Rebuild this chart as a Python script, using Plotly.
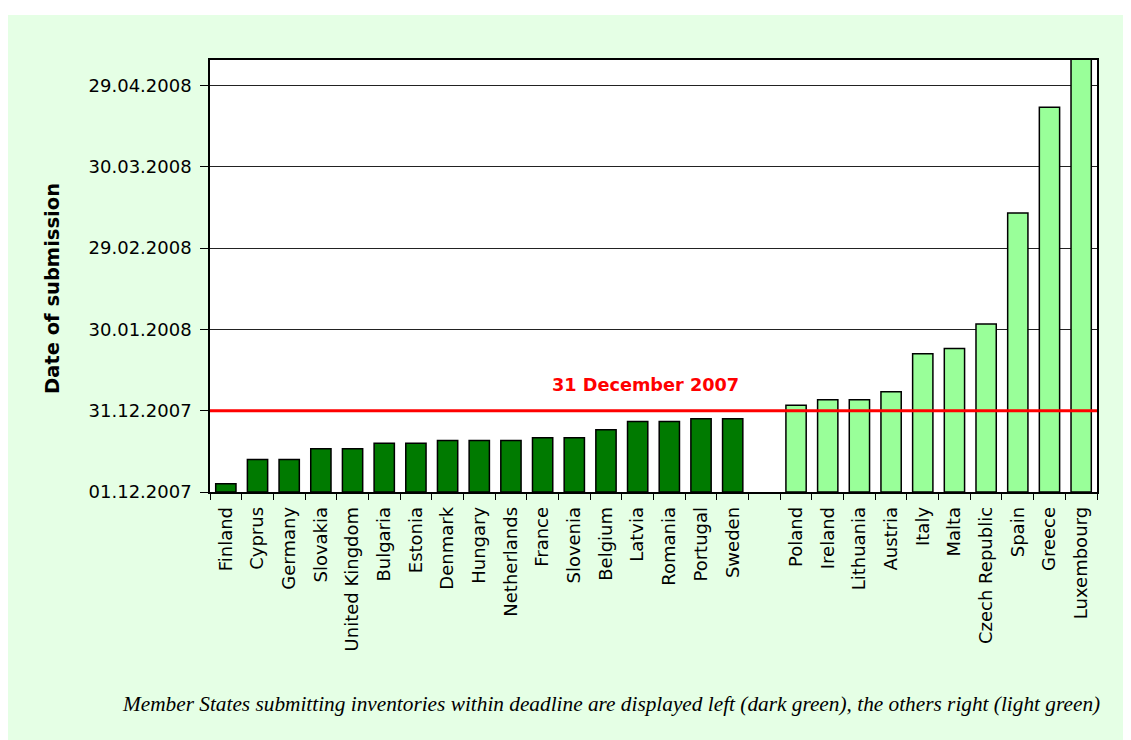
import plotly.graph_objects as go
import pandas as pd

# ---------------- data ----------------
origin_date = "2007-12-01"
deadline_date = "2007-12-31"
deadline_label = "31 December 2007"

ontime_countries = ["Finland", "Cyprus", "Germany", "Slovakia", "United Kingdom", "Bulgaria",
                    "Estonia", "Denmark", "Hungary", "Netherlands", "France", "Slovenia",
                    "Belgium", "Latvia", "Romania", "Portugal", "Sweden"]
ontime_dates = ["2007-12-04", "2007-12-13", "2007-12-13", "2007-12-17", "2007-12-17", "2007-12-19",
                "2007-12-19", "2007-12-20", "2007-12-20", "2007-12-20", "2007-12-21", "2007-12-21",
                "2007-12-24", "2007-12-27", "2007-12-27", "2007-12-28", "2007-12-28"]

late_countries = ["Poland", "Ireland", "Lithuania", "Austria", "Italy", "Malta",
                  "Czech Republic", "Spain", "Greece", "Luxembourg"]
late_dates = ["2008-01-02", "2008-01-04", "2008-01-04", "2008-01-07", "2008-01-21", "2008-01-23",
              "2008-02-01", "2008-03-13", "2008-04-21", "2008-05-20"]

gap_category = " "
tick_dates = ["2007-12-01", "2007-12-31", "2008-01-30", "2008-02-29", "2008-03-30", "2008-04-29"]
axis_max_date = "2008-05-08 10:00"

y_title = "Date of submission"
footnote = ("Member States submitting inventories within deadline are displayed left "
            "(dark green), the others right (light green)")

# ---------------- helpers ----------------
t0 = pd.Timestamp(origin_date)


def days(ds):
    return [(pd.Timestamp(d) - t0).total_seconds() / 86400.0 for d in ds]


ontime_y = days(ontime_dates)
late_y = days(late_dates)
tick_vals = days(tick_dates)
tick_text = [pd.Timestamp(d).strftime("%d.%m.%Y") for d in tick_dates]
ymax = days([axis_max_date])[0]
deadline_y = days([deadline_date])[0]

categories = ontime_countries + [gap_category] + late_countries

DARK = "#007A00"
LIGHT = "#99FF99"
BG = "#E5FFE5"

fig = go.Figure()
fig.add_trace(go.Bar(x=ontime_countries, y=ontime_y, marker=dict(color=DARK, line=dict(color="black", width=1.5)),
                     showlegend=False, hoverinfo="x+y"))
fig.add_trace(go.Bar(x=[gap_category], y=[0], marker=dict(color="rgba(0,0,0,0)", line=dict(width=0)),
                     showlegend=False, hoverinfo="skip"))
fig.add_trace(go.Bar(x=late_countries, y=late_y, marker=dict(color=LIGHT, line=dict(color="black", width=1.5)),
                     showlegend=False, hoverinfo="x+y"))

fig.update_layout(
    width=1123, height=732,
    margin=dict(l=202, r=34, t=52, b=248),
    paper_bgcolor="white",
    plot_bgcolor="rgba(0,0,0,0)",
    barmode="overlay",
    bargap=0.36,
    font=dict(family="DejaVu Sans", color="black", size=18),
    shapes=[
        dict(type="rect", xref="paper", yref="paper", x0=-0.2277, x1=1.05, y0=-0.6, y1=1.104,
             fillcolor=BG, line=dict(width=0), layer="below"),
        dict(type="rect", xref="paper", yref="paper", x0=0, x1=1, y0=0, y1=1,
             fillcolor="white", line=dict(width=0), layer="below"),
        dict(type="line", xref="paper", yref="y", x0=0, x1=1, y0=deadline_y, y1=deadline_y,
             line=dict(color="#FF0000", width=3), layer="above"),
    ],
    annotations=[
        dict(text=f"<b>{deadline_label}</b>", xref="paper", yref="paper", x=0.4915, y=0.248,
             showarrow=False, font=dict(color="#FF0000", size=17.7, family="DejaVu Sans"),
             xanchor="center", yanchor="middle"),
        dict(text=f"<b>{y_title}</b>", xref="paper", yref="paper", x=-0.177, y=0.47, textangle=-90,
             showarrow=False, font=dict(size=19.5, family="DejaVu Sans"), xanchor="center", yanchor="middle"),
        dict(text=f"<i>{footnote}</i>", xref="paper", yref="paper", x=0.452, y=-0.49,
             showarrow=False, font=dict(size=21.3, family="Liberation Serif"), xanchor="center", yanchor="middle"),
    ],
)

fig.update_xaxes(
    type="category", categoryorder="array", categoryarray=categories,
    range=[-0.5, len(categories) - 0.5],
    tickson="boundaries", ticks="outside", ticklen=6, tickcolor="black",
    tickangle=-90, tickfont=dict(size=18, family="DejaVu Sans"), ticklabelstandoff=6,
    showline=True, linecolor="black", linewidth=1.5, mirror=True,
    showgrid=False, fixedrange=True,
)
fig.update_yaxes(
    range=[0, ymax], tickvals=tick_vals, ticktext=tick_text,
    ticks="outside", ticklen=8, tickcolor="black",
    tickfont=dict(size=18, family="DejaVu Sans"), ticklabelstandoff=5,
    showline=True, linecolor="black", linewidth=1.5, mirror=True,
    showgrid=True, gridcolor="#222222", gridwidth=1, zeroline=False,
)

fig.write_html("out.html")
